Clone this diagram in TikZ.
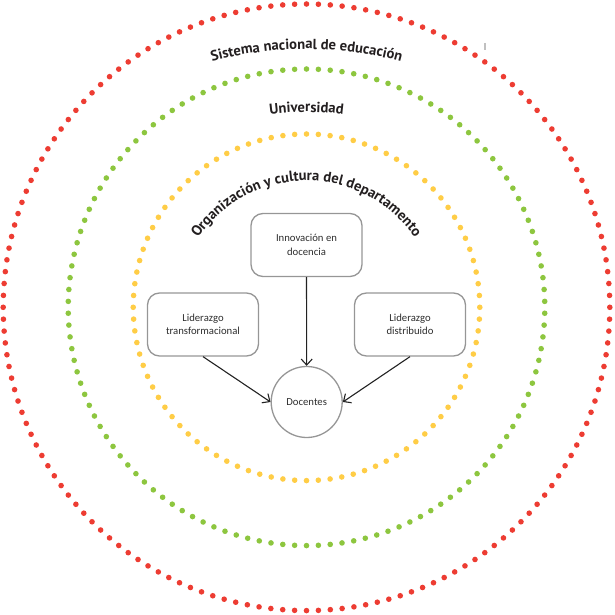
\documentclass[tikz,border=0pt]{standalone}
\usepackage{fontspec}
\setmainfont{Carlito}
\newfontfamily\titlefont{PT Sans}
\usetikzlibrary{arrows.meta,decorations.text}
\definecolor{dotred}{RGB}{237,60,50}
\definecolor{dotgreen}{RGB}{141,198,63}
\definecolor{dotyellow}{RGB}{255,205,70}
\definecolor{boxgray}{RGB}{150,150,150}
\definecolor{linedark}{RGB}{34,34,34}
\definecolor{titlecol}{RGB}{35,31,32}
\definecolor{txtcol}{RGB}{45,45,45}
\tikzset{
  boxnode/.style={draw=boxgray, line width=1.3pt, rounded corners=12pt,
    minimum width=111pt, minimum height=63pt, align=center, inner sep=0pt,
    text=txtcol, font=\fontsize{10.7}{13.5}\selectfont},
  docnode/.style={draw=boxgray, line width=1.3pt, circle, minimum size=71pt,
    inner sep=0pt, text=txtcol, font=\fontsize{10.7}{13.5}\selectfont},
  conn/.style={draw=linedark, line width=1.1pt, -{Straight Barb[length=6pt,width=11pt]}},
  titletext/.style={decorate, decoration={text along path, text align=center,
    text color=titlecol, text={|\titlefont\bfseries\fontsize{14.6}{16}\selectfont|#1}}}
}
\begin{document}
\begin{tikzpicture}[x=1pt,y=1pt]
\useasboundingbox (-306.5,-307.7) rectangle (307.5,307.3);
% dotted rings
\foreach \i in {0,...,159} \fill[dotred] ({90+\i*(360/160)}:303.3pt) circle (2.8pt);
\foreach \i in {0,...,125} \fill[dotgreen] ({90+\i*(360/126)}:238.3pt) circle (2.8pt);
\foreach \i in {0,...,91} \fill[dotyellow] ({90+\i*(360/92)}:173.3pt) circle (2.8pt);
% small gray mark
\draw[boxgray!60, line width=1.5pt] (178.5,264.3) -- (178.5,257.3);
% ring titles
\path[titletext={Sistema nacional de educación}] (0,-94.7) ++(125:353pt) arc[start angle=125, end angle=55, radius=353pt];
\path[titletext={Universidad}] (0,-94.7) ++(120:290pt) arc[start angle=120, end angle=60, radius=290pt];
\path[titletext={Organización y cultura del departamento}] (0,-4.5) ++(165:131pt) arc[start angle=165, end angle=15, radius=131pt];
% nodes
\node[boxnode] (inn) at (0,62.3) {Innovación en\\docencia};
\node[boxnode] (tra) at (-103.5,-17.2) {Liderazgo\\transformacional};
\node[boxnode] (dis) at (103.5,-17.2) {Liderazgo\\distribuido};
\node[docnode] (doc) at (0.2,-94.7) {Docentes};
% connectors
\draw[conn] (inn.south) -- (doc.north);
\draw[conn] (tra.south) -- (doc.west);
\draw[conn] (dis.south) -- (doc.east);
\end{tikzpicture}
\end{document}
